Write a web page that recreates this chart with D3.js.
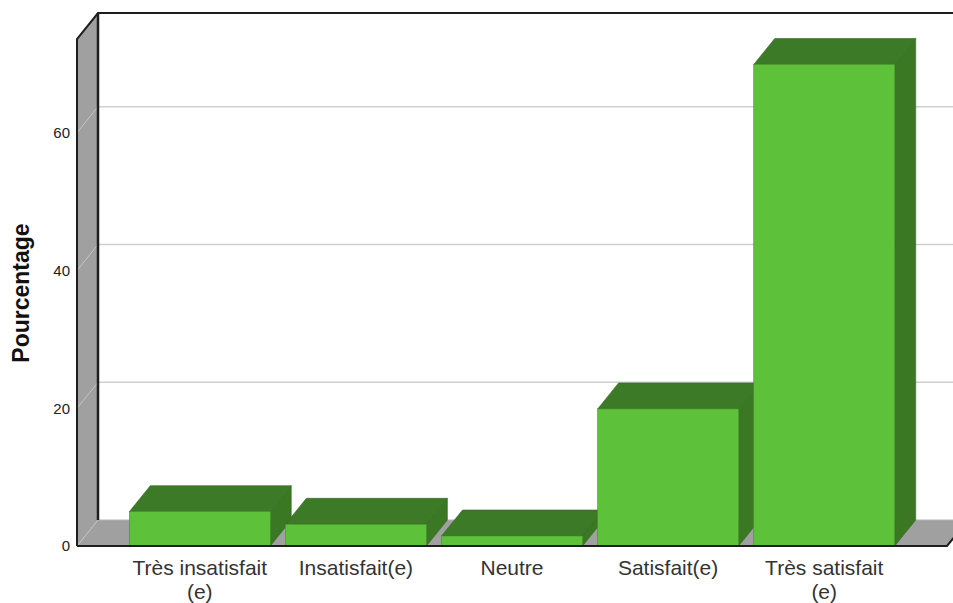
<!DOCTYPE html>
<html>
<head>
<meta charset="utf-8">
<script src="https://cdn.jsdelivr.net/npm/d3@7/dist/d3.min.js"></script>
<style>
  html, body { margin: 0; padding: 0; background: #fff; }
  svg { display: block; }
</style>
</head>
<body>
<svg id="chart" width="953" height="603"></svg>
<script>
// Satisfaction levels and their share of respondents (%)
const categories = ["Très insatisfait\n(e)", "Insatisfait(e)", "Neutre", "Satisfait(e)", "Très satisfait\n(e)"];
const percentages = [4.98, 3.15, 1.45, 19.9, 69.9];
const yTicks = [0, 20, 40, 60];
const yTitle = "Pourcentage";

const W = 953, H = 603;
const svg = d3.select("#chart");

// Pseudo-3D depth offset of the back planes
const DX = 21, DY = -26;

const x = d3.scaleBand()
  .domain(categories)
  .range([77, 947])
  .paddingInner(0.097)
  .paddingOuter(0.335);

const y = d3.scaleLinear()
  .domain([0, 73.6])
  .range([546, 39]);

const poly = pts => pts.map(p => p.join(",")).join(" ");

const y0 = y(0), yTop = y.range()[1];
const xL = x.range()[0], xR = x.range()[1];

// Back wall
svg.append("polygon")
  .attr("points", poly([[xL + DX, yTop + DY], [W + 40, yTop + DY], [W + 40, y0 + DY], [xL + DX, y0 + DY]]))
  .attr("fill", "#ffffff");

// Gridlines on the back wall
svg.append("g").selectAll("line")
  .data(yTicks.filter(d => d > 0))
  .join("line")
  .attr("x1", xL + DX).attr("x2", W + 40)
  .attr("y1", d => y(d) + DY).attr("y2", d => y(d) + DY)
  .attr("stroke", "#cfcfcf").attr("stroke-width", 1.5);

// Left wall
svg.append("polygon")
  .attr("points", poly([[xL, yTop], [xL + DX, yTop + DY], [xL + DX, y0 + DY], [xL, y0]]))
  .attr("fill", "#a0a0a0");

// Floor
svg.append("polygon")
  .attr("points", poly([[xL, y0], [xR, y0], [xR + DX, y0 + DY], [xL + DX, y0 + DY]]))
  .attr("fill", "#a0a0a0");
svg.append("line")
  .attr("x1", xL + DX).attr("x2", xR + DX)
  .attr("y1", y0 + DY).attr("y2", y0 + DY)
  .attr("stroke", "#b4b4b4").attr("stroke-width", 1);

// Tick connectors across the left wall
svg.append("g").selectAll("line")
  .data(yTicks)
  .join("line")
  .attr("x1", xL).attr("y1", d => y(d))
  .attr("x2", xL + DX).attr("y2", d => y(d) + DY)
  .attr("stroke", "#c4c4c4").attr("stroke-width", 1);

// Frame edges
const edge = "#1e1e1e";
svg.append("polyline")
  .attr("points", poly([[xL, y0], [xL, yTop], [xL + DX, yTop + DY], [W + 40, yTop + DY]]))
  .attr("fill", "none").attr("stroke", edge).attr("stroke-width", 2);
svg.append("line")
  .attr("x1", xL + DX).attr("x2", xL + DX)
  .attr("y1", yTop + DY).attr("y2", y0 + DY)
  .attr("stroke", edge).attr("stroke-width", 2.5);
svg.append("polyline")
  .attr("points", poly([[xL, y0], [xR, y0], [xR + DX, y0 + DY]]))
  .attr("fill", "none").attr("stroke", edge).attr("stroke-width", 2);

// Bars: side, top, then front face, drawn left to right
const frontFill = "#5dc13a", topFill = "#3d7a27", sideFill = "#3a7824", outline = "#2f6a1e";
const bars = svg.append("g");
categories.forEach((c, i) => {
  const v = percentages[i];
  const bx0 = x(c), bx1 = x(c) + x.bandwidth();
  const by = y(v);
  const g = bars.append("g");
  g.append("polygon")
    .attr("points", poly([[bx1, by], [bx1 + DX, by + DY], [bx1 + DX, y0 + DY], [bx1, y0]]))
    .attr("fill", sideFill).attr("stroke", outline).attr("stroke-width", 0.6);
  g.append("polygon")
    .attr("points", poly([[bx0, by], [bx0 + DX, by + DY], [bx1 + DX, by + DY], [bx1, by]]))
    .attr("fill", topFill).attr("stroke", outline).attr("stroke-width", 0.6);
  g.append("rect")
    .attr("x", bx0).attr("y", by)
    .attr("width", bx1 - bx0).attr("height", y0 - by)
    .attr("fill", frontFill).attr("stroke", "#4a8f30").attr("stroke-width", 0.6);
});

// Redraw the front floor edge above the bar bases
svg.append("line")
  .attr("x1", xL).attr("x2", xR).attr("y1", y0).attr("y2", y0)
  .attr("stroke", edge).attr("stroke-width", 2);

// Y tick labels
svg.append("g").selectAll("text")
  .data(yTicks)
  .join("text")
  .attr("x", 70).attr("y", d => y(d))
  .attr("dy", "0.36em")
  .attr("text-anchor", "end")
  .attr("font-family", "Liberation Sans, Arial, sans-serif")
  .attr("font-size", 15)
  .attr("fill", "#222")
  .text(d => d);

// Y axis title
svg.append("text")
  .attr("transform", "translate(29,293) rotate(-90)")
  .attr("text-anchor", "middle")
  .attr("font-family", "Liberation Sans, Arial, sans-serif")
  .attr("font-size", 23)
  .attr("font-weight", "bold")
  .attr("fill", "#111")
  .text(yTitle);

// Category labels, wrapped onto a second line where needed
const lbl = svg.append("g").selectAll("text")
  .data(categories)
  .join("text")
  .attr("x", d => x(d) + x.bandwidth() / 2)
  .attr("y", 575)
  .attr("text-anchor", "middle")
  .attr("font-family", "Liberation Sans, Arial, sans-serif")
  .attr("font-size", 21)
  .attr("fill", "#333");
lbl.each(function(d) {
  const lines = d.split("\n");
  d3.select(this).selectAll("tspan")
    .data(lines)
    .join("tspan")
    .attr("x", x(d) + x.bandwidth() / 2)
    .attr("dy", (l, j) => j === 0 ? 0 : 23.5)
    .text(l => l);
});
</script>
</body>
</html>
